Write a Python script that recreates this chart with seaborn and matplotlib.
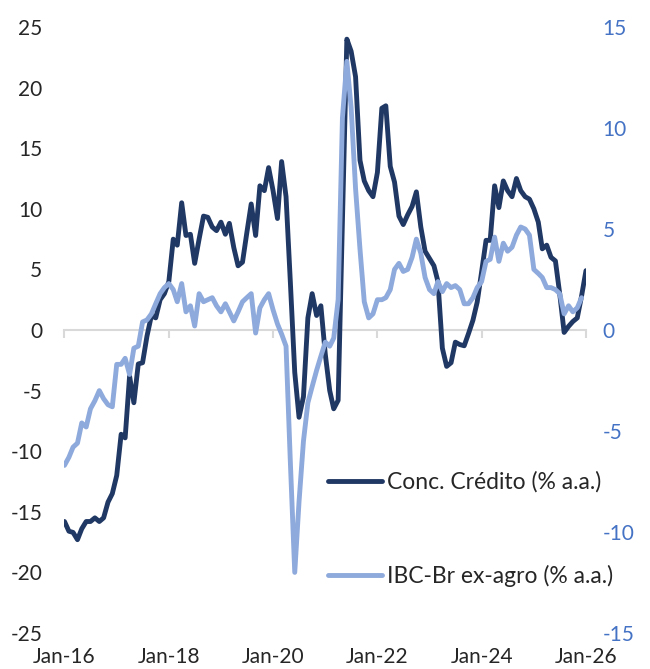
import pandas as pd
import matplotlib.pyplot as plt
import matplotlib.dates as mdates
import seaborn as sns

meses = pd.date_range("2016-01-01", periods=121, freq="MS")

# concessoes de credito, % a.a. (eixo esquerdo)
credito = [
    -15.8, -16.6, -16.7, -17.3, -16.4, -15.8, -15.8, -15.5, -15.8, -15.5, -14.2, -13.5,
    -12.0, -8.6, -8.9, -3.8, -6.0, -2.8, -2.7, -0.5, 1.2, 1.0, 2.5, 3.0,
    4.0, 7.5, 7.0, 10.5, 7.8, 7.9, 5.5, 7.5, 9.4, 9.3, 8.5, 8.2,
    8.9, 7.9, 8.8, 6.8, 5.3, 5.6, 8.0, 10.4, 7.8, 11.9, 11.5, 13.4,
    11.5, 9.2, 13.9, 11.0, 4.0, -3.5, -7.2, -5.5, 1.0, 3.0, 1.2, 2.0,
    -2.0, -5.0, -6.5, -5.8, 9.0, 24.0, 23.0, 20.9, 14.0, 12.3, 11.5, 11.0,
    13.0, 18.3, 18.5, 13.5, 12.2, 9.4, 8.7, 9.5, 10.2, 11.4, 8.5, 6.5,
    5.9, 5.3, 4.0, -1.5, -3.0, -2.7, -1.0, -1.2, -1.3, -0.3, 0.8, 2.3,
    4.8, 7.4, 7.4, 11.9, 10.1, 12.3, 11.5, 11.0, 12.5, 11.5, 11.0, 10.8,
    10.0, 8.9, 6.7, 7.0, 6.0, 5.7, 3.0, -0.2, 0.3, 0.7, 1.0, 2.8,
    4.9,
]

# IBC-Br ex-agro, % a.a. (eixo direito)
ibc = [
    -6.7, -6.3, -5.8, -5.6, -4.6, -4.8, -3.9, -3.5, -3.0, -3.4, -3.7, -3.8,
    -1.7, -1.7, -1.4, -2.2, -0.9, -0.8, 0.4, 0.5, 0.8, 1.3, 1.8, 2.1,
    2.3, 2.0, 1.4, 2.3, 0.9, 1.2, 0.2, 1.8, 1.4, 1.5, 1.6, 1.2,
    0.9, 1.3, 0.9, 0.45, 0.9, 1.4, 1.6, 1.8, -0.15, 1.1, 1.5, 1.8,
    1.0, 0.3, -0.2, -0.8, -6.5, -12.0, -8.5, -5.5, -3.6, -2.8, -2.0, -1.3,
    -0.6, -0.8, -0.4, 1.5, 10.5, 13.3, 11.0, 7.0, 4.0, 1.4, 0.6, 0.8,
    1.5, 1.5, 1.6, 2.0, 3.0, 3.3, 2.9, 3.0, 3.6, 4.5, 3.8, 2.6,
    2.0, 1.8, 2.4, 1.9, 2.3, 2.1, 2.2, 2.0, 1.3, 1.3, 1.6, 2.1,
    2.4, 3.4, 3.5, 4.6, 3.4, 4.3, 3.9, 4.1, 4.7, 5.1, 5.0, 4.7,
    3.0, 2.8, 2.6, 2.1, 2.1, 2.0, 1.8, 0.8, 1.2, 0.9, 1.1, 1.6,
    None,
]

ticks_esq = list(range(-25, 30, 5))
ticks_dir = list(range(-15, 20, 5))
ticks_x = pd.date_range("2016-01-01", "2026-01-01", freq="2YS")

cor_escura = "#203864"
cor_clara = "#8EA9DB"
cor_texto = "#262626"
cor_azul = "#4472C4"

sns.set_style("white")
plt.rcParams["font.family"] = ["Lato", "DejaVu Sans"]
plt.rcParams["axes.unicode_minus"] = False

df = pd.DataFrame({"data": meses, "credito": credito, "ibc": ibc})
df["ibc"] = df["ibc"].astype(float)

fig = plt.figure(figsize=(6.5, 6.69), dpi=100)
ax = fig.add_axes([0.0992, 0.0538, 0.8023, 0.9058])
ax2 = ax.twinx()

sns.lineplot(data=df, x="data", y="credito", ax=ax, color=cor_escura, lw=3.5,
             label="Conc. Crédito (% a.a.)")
sns.lineplot(data=df, x="data", y="ibc", ax=ax2, color=cor_clara, lw=3.5,
             label="IBC-Br ex-agro (% a.a.)")

ax.set_xlim(pd.Timestamp("2016-01-01"), pd.Timestamp("2026-01-01"))
ax.set_ylim(-25, 25)
ax2.set_ylim(-15, 15)
ax.set_yticks(ticks_esq)
ax2.set_yticks(ticks_dir)
ax.set_xticks(ticks_x)
ax.xaxis.set_major_formatter(mdates.DateFormatter("%b-%y"))

for a in (ax, ax2):
    for s in a.spines.values():
        s.set_visible(False)
    a.set_xlabel("")
    a.set_ylabel("")

ax.tick_params(axis="y", length=0, pad=16, labelsize=15, labelcolor=cor_texto)
ax2.tick_params(axis="y", length=0, pad=12, labelsize=15, labelcolor=cor_azul)
ax.tick_params(axis="x", length=0, pad=10, labelsize=15, labelcolor=cor_texto)

# linha do zero com as marcas
eixo0 = ax.secondary_xaxis(0.5)
eixo0.set_xticks(mdates.date2num(ticks_x))
eixo0.tick_params(axis="x", direction="in", length=6, width=1.5, color="#D9D9D9",
                  labelbottom=False, labeltop=False)
for s in eixo0.spines.values():
    s.set_color("#D9D9D9")
    s.set_linewidth(1.5)

h1, l1 = ax.get_legend_handles_labels()
h2, l2 = ax2.get_legend_handles_labels()
ax.get_legend().remove()
ax2.get_legend().remove()
ax2.legend(h1 + h2, l1 + l2, loc="upper left", bbox_to_anchor=(0.505, 0.267),
           frameon=False, borderaxespad=0, borderpad=0, fontsize=16.5,
           labelspacing=3.15, handlelength=2.36, handletextpad=0.22,
           labelcolor=cor_texto)

fig.savefig("out.png", dpi=100)
